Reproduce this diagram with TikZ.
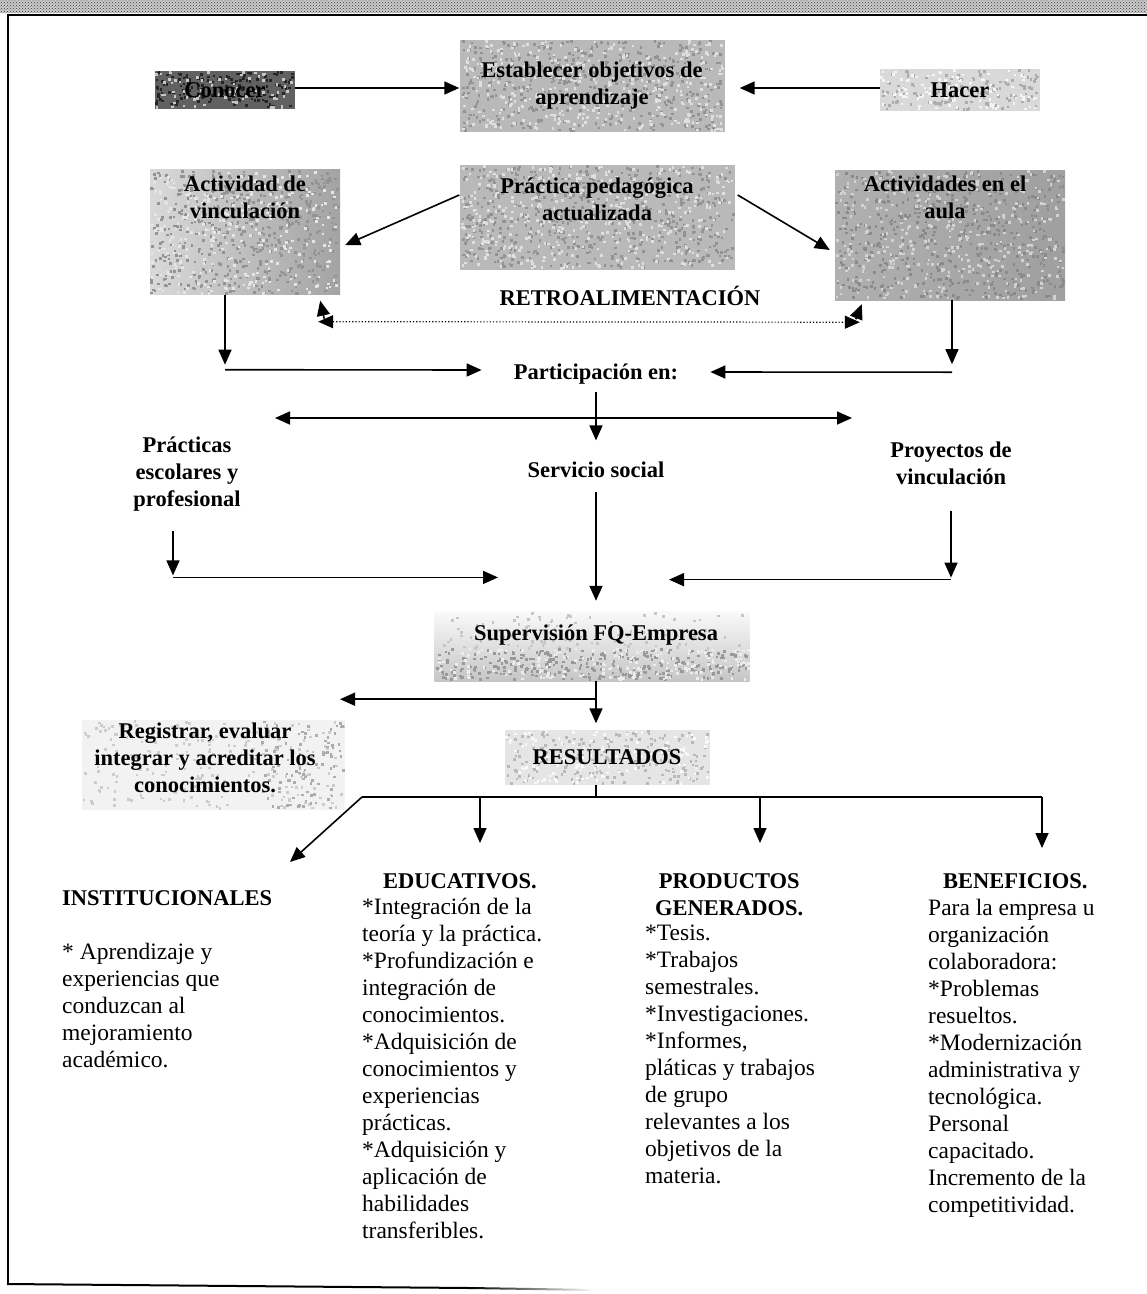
\documentclass[tikz,border=0pt]{standalone}
\usepackage{fontspec}
\setmainfont{Liberation Serif}
\usetikzlibrary{arrows.meta,calc,patterns,shadings}

% scatter #5 square specks of colour #6 over the rectangle (#1,#2)-(#3,#4)
\newcommand\boxgrain[6]{%
  \foreach \i in {1,...,#5}{%
    \pgfmathsetmacro\gx{#1+rnd*(#3-#1-2.6)}%
    \pgfmathsetmacro\gy{#2+rnd*(#4-#2-2.6)}%
    \fill[#6] (\gx,\gy) rectangle ++(2.6,2.6);}}

\begin{document}
\begin{tikzpicture}[x=1pt,y=-1pt,
  tip/.tip={Triangle[length=15pt,width=13pt]},
  arr/.style={line width=1.6pt,-tip},
  conn/.style={line width=1.6pt},
  box/.style={inner sep=0pt,draw=none},
  lbl/.style={inner sep=0pt,font=\fontsize{22.5}{27}\selectfont\bfseries,align=center},
  head/.style={inner sep=0pt,font=\fontsize{22.5}{27}\selectfont\bfseries,align=center,anchor=north west},
  body/.style={inner sep=0pt,font=\fontsize{23.5}{27}\selectfont,align=left,anchor=north west},
]
\pgfmathsetseed{11}
\useasboundingbox (0,0) rectangle (1147,1294);

% dotted band above the frame and the frame itself
\fill[gray!40] (0,0) rectangle (1147,13);
\fill[pattern=crosshatch dots, pattern color=black!80] (0,0) rectangle (1147,13);
\draw[line width=2.5pt] (8,1284) -- (8,15) -- (1147,15);
\draw[line width=2pt] (7,1284) -- (470,1288);
\shade[left color=black, right color=white] (470,1287) -- (595,1289) -- (595,1291) -- (470,1289) -- cycle;

% --- first row -------------------------------------------------------
\node[box, fill=black!62, minimum width=140pt, minimum height=38pt] (conocer) at (225,90) {};
\node[box, fill=gray!55, minimum width=265pt, minimum height=92pt] (estab) at (592,86) {};
\node[box, fill=gray!30, minimum width=160pt, minimum height=42pt] (hacer) at (960,90) {};
\boxgrain{155}{71}{295}{109}{160}{black!85}
\boxgrain{155}{71}{295}{109}{70}{gray!45}
\boxgrain{460}{40}{725}{132}{450}{gray!85}
\boxgrain{460}{40}{725}{132}{400}{gray!25}
\boxgrain{880}{69}{1040}{111}{140}{gray!65}
\boxgrain{880}{69}{1040}{111}{100}{gray!8}
\node[lbl] (conocert) at (conocer) {Conocer};
\node[lbl] (estabt) at (estab) {Establecer objetivos de\\aprendizaje};
\node[lbl] (hacert) at (hacer) {Hacer};

\draw[arr] (conocer.east |- 0,88) -- (estab.west |- 0,88);
\draw[arr] (hacer.west |- 0,88) -- ($(estab.east |- 0,88)+(15,0)$);

% --- second row ------------------------------------------------------
\node[box, left color=gray!30, right color=gray!72, minimum width=190pt, minimum height=125pt] (vinc) at (245,232) {};
\node[box, fill=gray!55, minimum width=275pt, minimum height=105pt] (practica) at (597,217) {};
\node[box, left color=gray!62, right color=gray!75, minimum width=230pt, minimum height=130pt] (aula) at (950,235) {};
\boxgrain{150}{170}{340}{295}{500}{gray!85}
\boxgrain{150}{170}{340}{295}{300}{gray!20}
\boxgrain{460}{165}{735}{270}{550}{gray!85}
\boxgrain{460}{165}{735}{270}{420}{gray!25}
\boxgrain{835}{170}{1065}{300}{520}{gray!92}
\boxgrain{835}{170}{1065}{300}{380}{gray!35}
\node[lbl] (vinct) at (245,197) {Actividad de\\vinculación};
\node[lbl] (practicat) at (597,199) {Práctica pedagógica\\actualizada};
\node[lbl] (aulat) at (945,197) {Actividades en el\\aula};

\draw[arr] ($(practica.west)+(0,-22)$) -- ($(vinc.east)+(5,13)$);
\draw[arr] ($(practica.east)+(3,-22)$) -- ($(aula.west)+(-5,15)$);

% feedback loop
\node[lbl] (retro) at (630,296) {RETROALIMENTACIÓN};
\coordinate (fbL) at ($(vinc.south east)+(-22,27)$);
\coordinate (fbR) at ($(aula.south west)+(25,22)$);
\draw[line width=1.2pt, dotted, tip-tip] (fbL) -- (fbR);
\draw[arr] ($(fbL)+(6,-3)$) -- ($(vinc.south east)+(-20,6)$);
\draw[arr] ($(fbR)+(-4,-3)$) -- ($(aula.south west)+(27,4)$);

% --- participation ---------------------------------------------------
\node[lbl] (part) at (596,374) {Participación en:};
\coordinate (vL) at ($(vinc.south)+(-20,0)$);
\coordinate (vR) at ($(aula.south)+(2,0)$);
\draw[arr] (vL) -- ++(0,70);
\draw[arr] ($(vL)+(0,75)$) -- ($(part.west |- 0,370)+(-32,0)$);
\draw[arr] (vR) -- ++(0,64);
\draw[arr] ($(vR)+(0,72)$) -- ($(part.east |- 0,372)+(32,0)$);

\draw[arr] ($(part.south)+(0,8)$) -- ++(0,48);
\coordinate (sL) at (275,418);
\coordinate (sR) at (852,418);
\draw[conn, tip-tip] (sL) -- (sR);

\node[lbl] (practicas) at (187,474) {Prácticas\\escolares y\\profesional};
\node[lbl] (servicio) at (596,470) {Servicio social};
\node[lbl] (proyectos) at (951,463) {Proyectos de\\vinculación};

\coordinate (mL) at ($(practicas.south)+(-14,66)$);
\coordinate (mR) at ($(proyectos.south)+(0,95)$);
\draw[arr] ($(practicas.south)+(-14,20)$) -- ++(0,44);
\draw[arr] (mL) -- ++(325,0);
\draw[arr] ($(proyectos.south)+(0,26)$) -- ++(0,67);
\draw[arr] (mR) -- ++(-282,0);

% --- supervision -----------------------------------------------------
\node[box, top color=gray!4, bottom color=gray!45, minimum width=315pt, minimum height=70pt] (super) at (592,646) {};
\boxgrain{435}{612}{750}{650}{110}{gray!45}
\boxgrain{435}{648}{750}{681}{320}{gray!80}
\boxgrain{435}{648}{750}{681}{180}{gray!15}
\node[lbl] (supert) at (596,635) {Supervisión FQ-Empresa};
\draw[arr] ($(servicio.south)+(0,14)$) -- ($(super.north)+(4,-10)$);

\fill[gray!10] (82,720) rectangle (345,810);
\boxgrain{82}{720}{345}{810}{220}{gray!40}
\boxgrain{260}{720}{345}{810}{100}{gray!65}
\node[lbl] (reg) at (205,758) {Registrar, evaluar\\integrar y acreditar los\\conocimientos.};

\node[box, fill=gray!20, minimum width=205pt, minimum height=55pt] (res) at (607,757) {};
\boxgrain{505}{730}{710}{785}{200}{gray!55}
\boxgrain{505}{730}{710}{785}{120}{gray!5}
\node[lbl] (rest) at (res) {RESULTADOS};
\draw[arr] ($(super.south)+(4,0)$) -- ($(res.north)+(-11,-6)$);
\draw[arr] ($(super.south)+(4,18)$) -- ++(-256,0);

% --- results ---------------------------------------------------------
\coordinate (hub) at ($(res.south)+(-11,12)$);
\coordinate (bL) at (362,797);
\coordinate (bR) at (1042,797);
\draw[conn] ($(res.south)+(-11,0)$) -- (hub);
\draw[conn] (bL) -- (bR);
\draw[arr] (bL) -- (290,862);
\draw[arr] (480,797) -- (480,843);
\draw[arr] (760,797) -- (760,843);
\draw[arr] (bR) -- (1042,848);

\node[head] (inst) at (62,890) {INSTITUCIONALES};
\node[body] (instb) at (62,943) {* Aprendizaje y\\experiencias que\\conduzcan al\\mejoramiento\\académico.};

\node[head] (edu) at (383,873) {EDUCATIVOS.};
\node[body] (edub) at (362,898) {*Integración de la\\teoría y la práctica.\\*Profundización e\\integración de\\conocimientos.\\*Adquisición de\\conocimientos y\\experiencias\\prácticas.\\*Adquisición y\\aplicación de\\habilidades\\transferibles.};

\node[head] (prod) at (655,873) {PRODUCTOS\\GENERADOS.};
\node[body] (prodb) at (645,925) {*Tesis.\\*Trabajos\\semestrales.\\*Investigaciones.\\*Informes,\\pláticas y trabajos\\de grupo\\relevantes a los\\objetivos de la\\materia.};

\node[head] (ben) at (943,873) {BENEFICIOS.};
\node[body] (benb) at (928,899) {Para la empresa u\\organización\\colaboradora:\\*Problemas\\resueltos.\\*Modernización\\administrativa y\\tecnológica.\\Personal\\capacitado.\\Incremento de la\\competitividad.};
\end{tikzpicture}
\end{document}
